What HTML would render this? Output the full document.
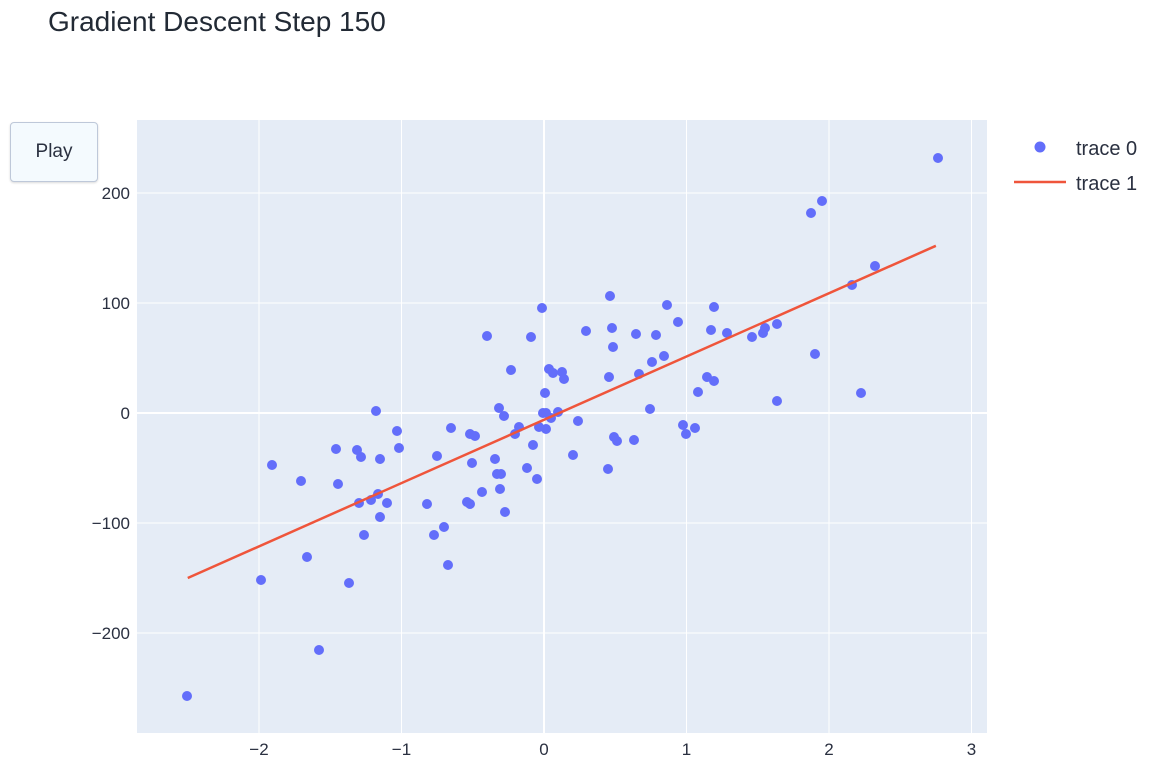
<!DOCTYPE html>
<html><head><meta charset="utf-8"><style>
body{margin:0;background:#fff;font-family:"Liberation Sans",sans-serif;}
#wrap{position:relative;width:1156px;height:766px;overflow:hidden;}
#title{position:absolute;left:48px;top:6px;font-size:28px;color:#222a35;}
#play{position:absolute;left:10px;top:122px;width:86px;height:58px;border:1px solid #bec8d9;border-radius:4px;background:#f4fafe;font-size:19px;color:#2a3040;display:flex;align-items:center;justify-content:center;box-shadow:0 1px 2px rgba(0,0,0,0.15);}
</style></head><body>
<div id="wrap">
<div id="title">Gradient Descent Step 150</div>
<svg id="svg" width="1156" height="766" style="position:absolute;left:0;top:0"></svg>
<div id="play">Play</div>
</div>
<script>
const xTicks=[-2,-1,0,1,2,3];
const yTicks=[-200,-100,0,100,200];
const px=[187,261,272,301,307,319,336,338,349,357,359,361,364,371,376,378,380,380,387,397,399,427,434,437,444,448,451,467,470,470,472,475,482,487,495,497,499,500,501,504,505,511,515,519,527,531,533,537,539,542,543,545,546,546,549,551,553,558,562,564,573,578,586,608,609,610,612,613,614,617,634,636,639,650,652,656,664,667,678,683,686,695,698,707,711,714,714,727,752,763,765,777,777,811,815,822,852,861,875,938];
const py=[696,580,465,481,557,650,449,484,583,450,503,457,535,500,411,494,459,517,503,431,448,504,535,456,527,565,428,502,504,434,463,436,492,336,459,474,408,489,474,416,512,370,434,427,468,337,445,479,427,308,413,393,413,429,369,418,373,412,372,379,455,421,331,469,377,296,328,347,437,441,440,334,374,409,362,335,356,305,322,425,434,428,392,377,330,381,307,333,337,333,328,324,401,213,354,201,285,393,266,158];
const xData=px.map(p=>(p-544)/142.5);
const yData=py.map(p=>(413-p)/1.1);
const lineX=[-2.5,2.75];
const lineY=[-150,152];
const X=v=>544+v*142.5, Y=v=>413-v*1.1;
const svg=document.getElementById('svg');
const NS='http://www.w3.org/2000/svg';
function mk(t,a){const e=document.createElementNS(NS,t);for(const k in a)e.setAttribute(k,a[k]);svg.appendChild(e);return e;}
let bg=mk('rect',{x:137,y:120,width:850,height:613,fill:'#e5ecf6'});


xTicks.forEach(t=>{
 let l=mk('line',{x1:X(t),x2:X(t),y1:120,y2:733,stroke:'#fff','stroke-width':t==0?2:1});
 
 
 let tx=mk('text',{x:X(t),y:755,'text-anchor':'middle','font-size':17,fill:'#2a3040'});
 tx.textContent=t<0?'\u2212'+(-t):t;
 
 
});
yTicks.forEach(t=>{
 let l=mk('line',{x1:137,x2:987,y1:Y(t),y2:Y(t),stroke:'#fff','stroke-width':t==0?2:1});
 
 
 let tx=mk('text',{x:130,y:Y(t)+6,'text-anchor':'end','font-size':17,fill:'#2a3040'});
 tx.textContent=t<0?'\u2212'+(-t):t;
 
 
});
xData.forEach((v,i)=>{
 let c=mk('circle',{cx:X(v),cy:Y(yData[i]),r:5,fill:'#636efa'});
 
 
});
let ln=mk('line',{x1:X(lineX[0]),y1:Y(lineY[0]),x2:X(lineX[1]),y2:Y(lineY[1]),stroke:'#ef553b','stroke-width':2.5});


let lc=mk('circle',{cx:1040,cy:147,r:5.5,fill:'#636efa'});


let lt=mk('text',{x:1076,y:155,'font-size':20,fill:'#2a3040'});lt.textContent='trace 0';


let ll=mk('line',{x1:1014,x2:1066,y1:182,y2:182,stroke:'#ef553b','stroke-width':2.5});


let lt2=mk('text',{x:1076,y:190,'font-size':20,fill:'#2a3040'});lt2.textContent='trace 1';


</script>
</body></html>
